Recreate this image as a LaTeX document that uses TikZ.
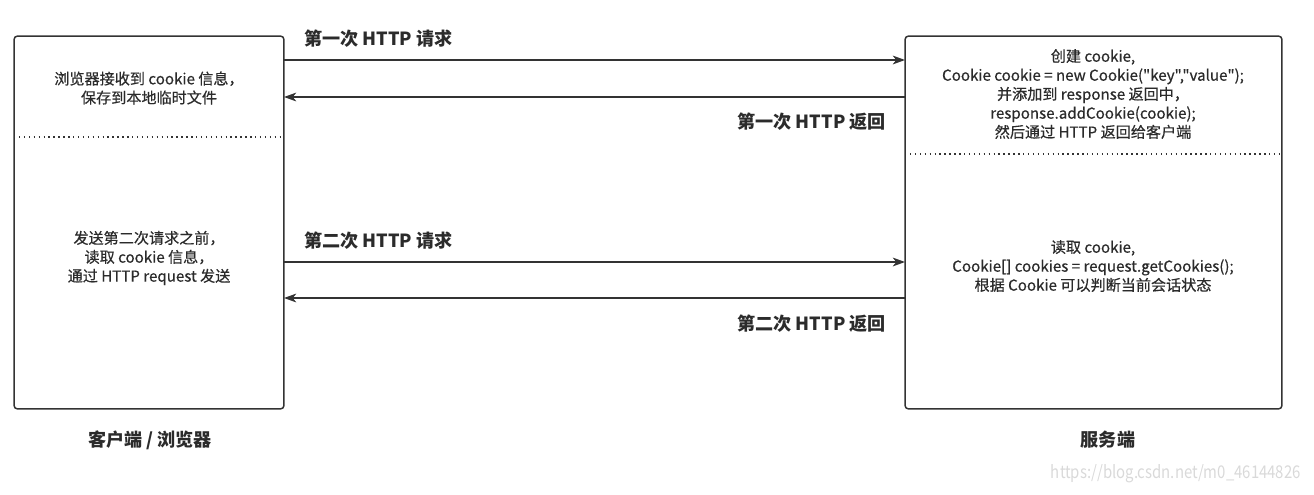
\documentclass[tikz,border=0pt]{standalone}
\usepackage{fontspec}
\setmainfont{Noto Sans CJK SC}[Ligatures=TeXOff]
\newfontfamily\boxfont{Noto Sans CJK SC}[Ligatures=TeXOff,FakeBold=0.5]
\usepackage{tikz}
\usetikzlibrary{arrows.meta}
\definecolor{linegray}{HTML}{333333}
\definecolor{textgray}{HTML}{2B2B2B}
\definecolor{wmgray}{HTML}{D9D9D9}
\tikzset{
  box/.style={draw=linegray,line width=0.85pt,rounded corners=2pt,inner sep=0pt,outer sep=0pt},
  msg/.style={draw=linegray,line width=0.85pt,-{Stealth[length=7pt,width=5pt,inset=2pt]}},
  sep/.style={draw=linegray,line width=0.8pt,dotted},
  txt/.style={text=textgray,font=\boxfont\fontsize{8.6}{10.8}\selectfont,align=center},
  lbl/.style={text=textgray,font=\fontsize{10.3}{12}\selectfont\bfseries},
}
\begin{document}
\begin{tikzpicture}[x=0.02cm,y=-0.02cm]
      \useasboundingbox (0,0) rectangle (1314,494);

      % the two sides
      \node[box,minimum width=5.4cm,minimum height=7.46cm] (client) at (149,222.5) {};
      \node[box,minimum width=7.54cm,minimum height=7.46cm] (server) at (1093.5,222.5) {};

      \coordinate (clientsep) at (14,137);
      \draw[sep] (clientsep) -- (clientsep -| client.east);
      \coordinate (serversep) at (905,154);
      \draw[sep] (serversep) -- (serversep -| server.east);

      \node[txt] (cookiesave) at (149,88) {浏览器接收到 cookie 信息，\\ 保存到本地临时文件};
      \node[txt] (cookiesend) at (149,258) {发送第二次请求之前，\\ 读取 cookie 信息，\\ 通过 HTTP request 发送};

      \node[txt] (cookienew) at (1093,94) {创建 cookie,\\ Cookie cookie = new Cookie("key","value");\\ 并添加到 response 返回中，\\ response.addCookie(cookie);\\ 然后通过 HTTP 返回给客户端};
      \node[txt] (cookieread) at (1093,266) {读取 cookie,\\ Cookie[] cookies = request.getCookies();\\ 根据 Cookie 可以判断当前会话状态};

      % first round trip
      \coordinate (req1) at (284,60);
      \draw[msg] (req1) -- (req1 -| server.west);
      \node[lbl,anchor=west] (req1lbl) at (298,39) {第一次 HTTP 请求};

      \coordinate (res1) at (905,97);
      \draw[msg] (res1) -- (res1 -| client.east);
      \node[lbl,anchor=east] (res1lbl) at (892,122) {第一次 HTTP 返回};

      % second round trip
      \coordinate (req2) at (284,262);
      \draw[msg] (req2) -- (req2 -| server.west);
      \node[lbl,anchor=west] (req2lbl) at (298,241) {第二次 HTTP 请求};

      \coordinate (res2) at (905,298);
      \draw[msg] (res2) -- (res2 -| client.east);
      \node[lbl,anchor=east] (res2lbl) at (892,324) {第二次 HTTP 返回};

      \node[lbl] (clientlbl) at (150,440) {客户端 / 浏览器};
      \node[lbl] (serverlbl) at (1108,440) {服务端};

      \node[text=wmgray,font=\fontsize{10}{11}\selectfont,anchor=east,xscale=0.85] (wmark) at (1306,474) {https://blog.csdn.net/m0\_46144826};
    \end{tikzpicture}
\end{document}
